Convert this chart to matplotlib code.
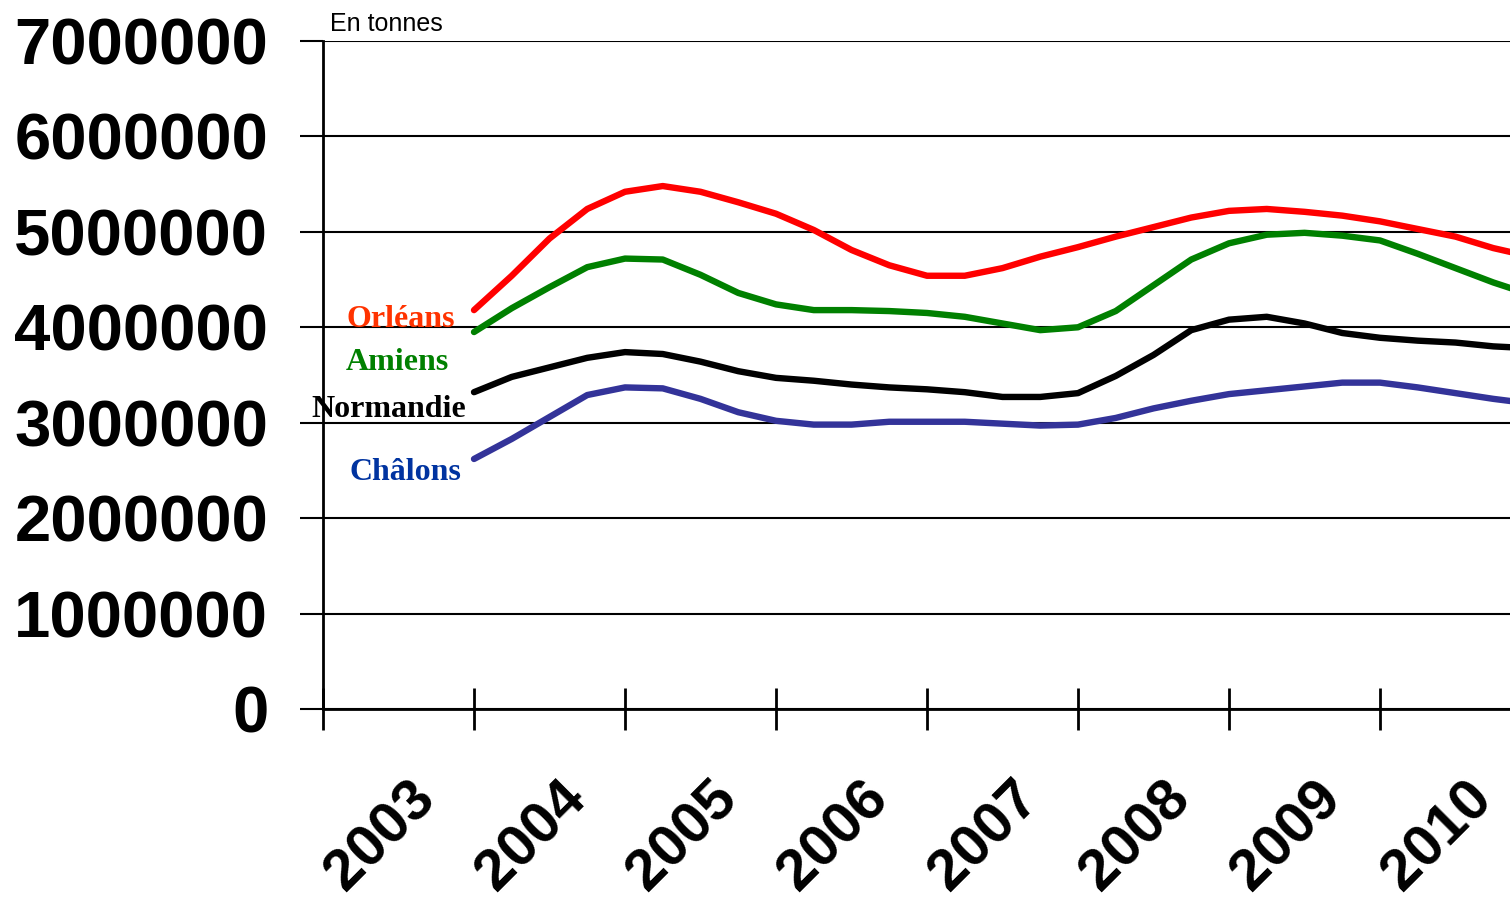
import numpy as np
import matplotlib
matplotlib.use("Agg")
import matplotlib.pyplot as plt


# quarterly tonnages, 2003 Q1 .. 2010 Q1 (millions of tonnes)
years = ["2003", "2004", "2005", "2006", "2007", "2008", "2009", "2010"]
orleans = [4.18, 4.54, 4.93, 5.24, 5.42, 5.48, 5.42, 5.31, 5.19, 5.02, 4.81, 4.65,
           4.54, 4.54, 4.62, 4.74, 4.84, 4.95, 5.05, 5.15, 5.22, 5.24, 5.21, 5.17,
           5.11, 5.03, 4.95, 4.83, 4.74]
amiens = [3.95, 4.20, 4.42, 4.63, 4.72, 4.71, 4.55, 4.36, 4.24, 4.18, 4.18, 4.17,
          4.15, 4.11, 4.04, 3.97, 4.00, 4.17, 4.44, 4.71, 4.88, 4.97, 4.99, 4.96,
          4.91, 4.77, 4.62, 4.47, 4.34]
normandie = [3.32, 3.48, 3.58, 3.68, 3.74, 3.72, 3.64, 3.54, 3.47, 3.44, 3.40, 3.37,
             3.35, 3.32, 3.27, 3.27, 3.31, 3.49, 3.71, 3.97, 4.08, 4.11, 4.04, 3.94,
             3.89, 3.86, 3.84, 3.80, 3.78]
chalons = [2.62, 2.83, 3.06, 3.29, 3.37, 3.36, 3.25, 3.11, 3.02, 2.98, 2.98, 3.01,
           3.01, 3.01, 2.99, 2.97, 2.98, 3.05, 3.15, 3.23, 3.30, 3.34, 3.38, 3.42,
           3.42, 3.37, 3.31, 3.25, 3.20]
y_ticks = [0, 1000000, 2000000, 3000000, 4000000, 5000000, 6000000, 7000000]

W, H = 1510, 899
fig = plt.figure(figsize=(W / 100, H / 100), dpi=100)
ax = fig.add_axes([323 / W, 1 - 709 / H, (W - 323) / W, (709 - 41) / H])

x = 2003 + np.arange(len(orleans)) / 4

series = [
    (orleans, "#ff0000"),
    (amiens, "#008000"),
    (normandie, "#000000"),
    (chalons, "#333399"),
]
for vals, color in series:
    ax.plot(x, np.array(vals) * 1e6, color=color, lw=4.6,
            solid_joinstyle="round", solid_capstyle="round", zorder=3)

ax.set_xlim(2002, 2002 + (W - 323) / 151)
ax.set_ylim(0, 7000000)

ax.set_yticks(y_ticks)
ax.set_yticklabels([str(v) for v in y_ticks], fontsize=47,
                   fontweight="bold", family="Liberation Sans")
ax.tick_params(axis="y", direction="out", length=16.5, width=1.5, pad=23, color="black")
ax.yaxis.grid(True, color="black", lw=1.5)
ax.set_axisbelow(True)

ax.set_xticks(range(2002, 2010))
ax.set_xticklabels([])
ax.tick_params(axis="x", direction="inout", length=30, width=2, color="black")

for s in ["top", "right"]:
    ax.spines[s].set_visible(False)
for s in ["left", "bottom"]:
    ax.spines[s].set_linewidth(2)

for i, lab in enumerate(years):
    ax.annotate(lab, xy=(2003 + i, 0), xycoords=("data", "axes fraction"),
                xytext=(-66, -62), textcoords="offset pixels",
                rotation=45, rotation_mode="anchor", ha="right", va="top",
                fontsize=42, fontweight="bold", family="Liberation Sans",
                annotation_clip=False)

fig.text(330 / W, 1 - 31 / H, "En tonnes", fontsize=18, family="Liberation Sans",
         ha="left", va="baseline")

labels = [
    ("Orléans", "#ff3300", 401, 327),
    ("Amiens", "#008000", 397, 370),
    ("Normandie", "#000000", 389, 417),
    ("Châlons", "#0033a0", 405, 480),
]
for txt, color, px, py in labels:
    fig.text(px / W, 1 - py / H, txt, color=color, fontsize=23, fontweight="bold",
             family="Liberation Serif", ha="center", va="baseline")

fig.savefig("out.png", dpi=100)
